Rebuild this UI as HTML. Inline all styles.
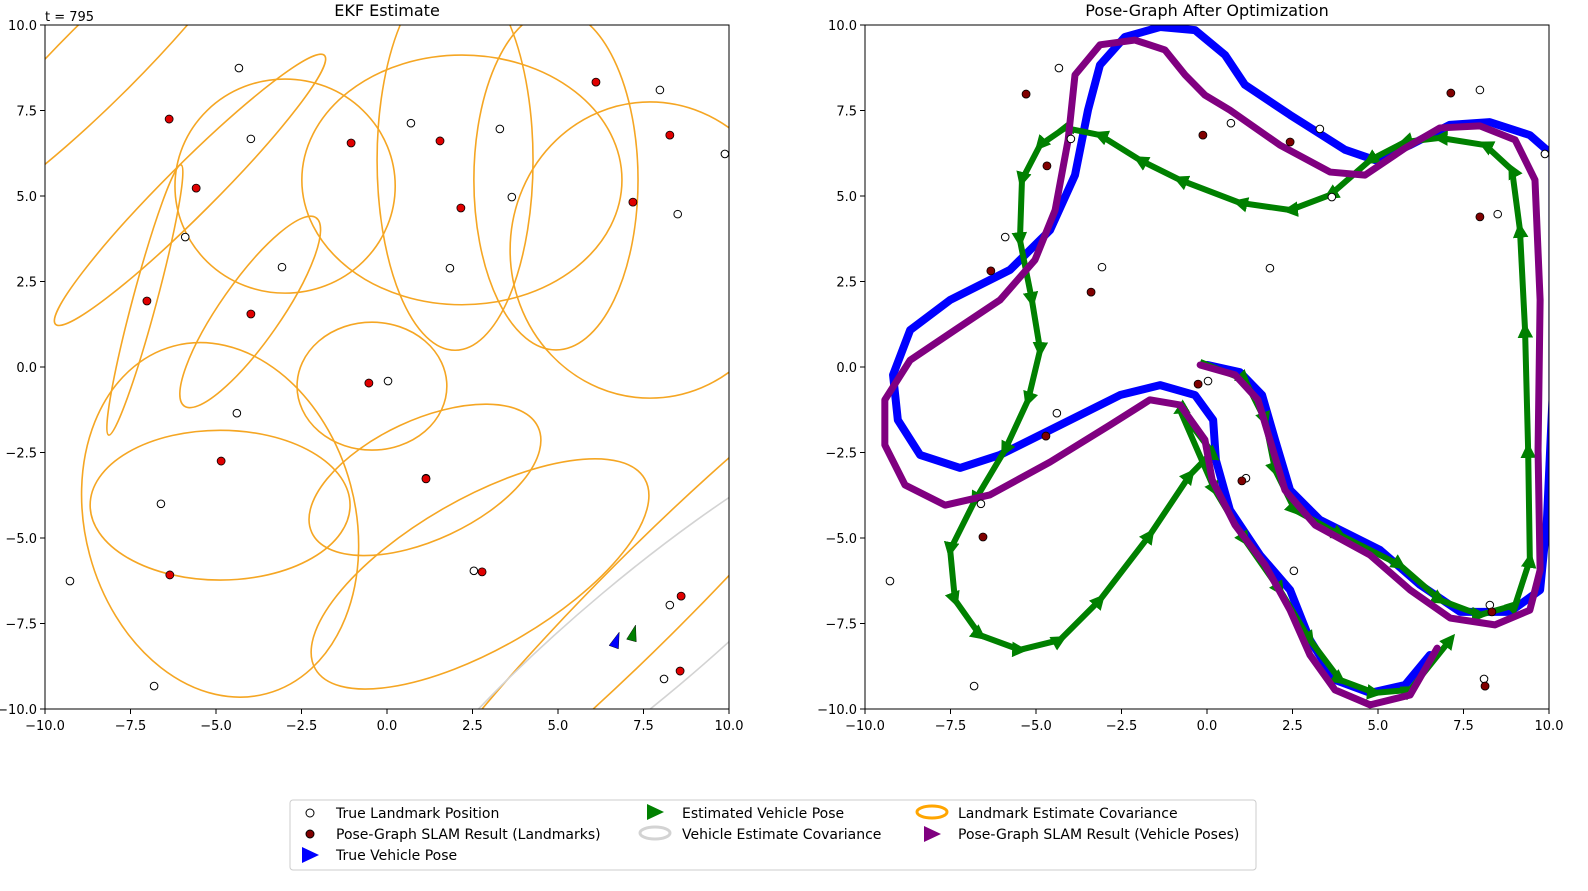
<!DOCTYPE html>
<html><head><meta charset="utf-8"><style>
body{margin:0;background:#fff;font-family:"Liberation Sans","DejaVu Sans",sans-serif;}
svg text{font-family:"DejaVu Sans","Liberation Sans",sans-serif;}
</style></head><body>
<svg id="chart" width="1588" height="886" viewBox="0 0 1588 886" xmlns="http://www.w3.org/2000/svg">
<defs>
<clipPath id="clipL"><rect x="45" y="25" width="684" height="684"/></clipPath>
<clipPath id="clipR"><rect x="865" y="25" width="684" height="684"/></clipPath>
<marker id="gtri" viewBox="0 0 10 10" refX="5" refY="5" markerWidth="2.6" markerHeight="2.6" orient="auto"><path d="M0,0 L10,5 L0,10 z" fill="#008000"/></marker>
</defs>
<g id="left"></g>
<g id="right"></g>
<text x="45" y="21" font-size="13">t = 795</text>
<text x="387" y="16" font-size="16" text-anchor="middle">EKF Estimate</text>
<text x="1207" y="16" font-size="16" text-anchor="middle">Pose-Graph After Optimization</text>
<g>
<rect x="290" y="800" width="966" height="70" rx="3" fill="#fff" stroke="#ccc"/>
<circle cx="310" cy="813" r="4" fill="#fff" stroke="#000"/>
<text x="336" y="818" font-size="14">True Landmark Position</text>
<circle cx="310" cy="834" r="4" fill="#800000" stroke="#000"/>
<text x="336" y="839" font-size="14">Pose-Graph SLAM Result (Landmarks)</text>
<path d="M302,847 L319,855 L302,863 z" fill="#0000ff"/>
<text x="336" y="860" font-size="14">True Vehicle Pose</text>
<path d="M647,804 L664,812 L647,820 z" fill="#008000"/>
<text x="682" y="818" font-size="14">Estimated Vehicle Pose</text>
<ellipse cx="655" cy="833" rx="15" ry="6" fill="none" stroke="#d3d3d3" stroke-width="3"/>
<text x="682" y="839" font-size="14">Vehicle Estimate Covariance</text>
<ellipse cx="932" cy="812" rx="15" ry="6" fill="none" stroke="#ffa500" stroke-width="3"/>
<text x="958" y="818" font-size="14">Landmark Estimate Covariance</text>
<path d="M924,826 L941,834 L924,842 z" fill="#800080"/>
<text x="958" y="839" font-size="14">Pose-Graph SLAM Result (Vehicle Poses)</text>
</g>
</svg>
<script>
const trueLmX=[-4.33,7.98,9.88,-3.98,0.7,3.3,3.65,8.5,-5.9,-3.07,1.84,0.03,-4.39,1.14,-6.61,-9.27,2.54,8.27,8.1,-6.81];
const trueLmY=[8.74,8.1,6.23,6.67,7.13,6.96,4.97,4.47,3.8,2.92,2.89,-0.41,-1.35,-3.25,-4.0,-6.26,-5.96,-6.96,-9.12,-9.33];
const ekfLmX=[-6.37,6.11,-1.05,1.55,8.27,-5.58,2.16,7.19,-7.02,-3.98,-0.53,-4.85,1.14,-6.35,2.78,8.6,8.57];
const ekfLmY=[7.25,8.33,6.55,6.61,6.78,5.23,4.65,4.82,1.93,1.55,-0.47,-2.75,-3.27,-6.08,-5.99,-6.7,-8.89];
const pgLmX=[-5.29,7.13,-0.12,2.43,-4.68,7.98,-6.32,-3.39,-0.26,-4.71,1.02,-6.55,8.33,8.13];
const pgLmY=[7.98,8.01,6.78,6.58,5.88,4.39,2.81,2.19,-0.5,-2.02,-3.33,-4.97,-7.16,-9.33];
const ellCx=[-0.44,-4.88,-4.88,1.11,2.72,7.6,2.19,1.99,4.94,7.69,-8.39,-5.76,-7.08,-4.0,-2.98];
const ellCy=[-0.56,-4.04,-4.47,-3.3,-6.05,-6.7,5.47,6.05,5.47,3.42,8.98,5.18,1.96,1.61,5.29];
const ellRx=[2.19,3.8,3.95,3.65,5.56,10.2,4.68,2.28,2.4,4.09,6.73,5.56,4.09,3.36,3.22];
const ellRy=[1.87,2.19,5.26,1.75,2.19,1.3,3.65,5.56,4.97,4.33,1.17,0.73,0.35,0.88,3.13];
const ellAng=[0,0,15,25,30,45,0,0,0,0,45,45,75,55,0];
const vehCovCx=[7.4], vehCovCy=[-7.98], vehCovRx=[9.36], vehCovRy=[1.75], vehCovAng=[40];
const trueVeh=[6.7,-8.0,70], estVeh=[7.2,-7.8,75];
const blueX=[0,0.96,1.61,1.99,2.43,3.3,5.06,6.23,7.4,8.86,9.74,9.94,10.1,10.1,10.1,9.44,8.27,7.1,5.94,4.91,4.04,2.43,1.11,0.53,-0.35,-1.37,-2.4,-3.13,-3.48,-3.86,-4.59,-5.76,-7.51,-8.68,-9.18,-9.04,-8.39,-7.22,-6.05,-4.3,-2.54,-1.37,-0.35,0.18,0.26,0.67,1.55,2.43,3.01,3.74,4.77,5.79,6.52];
const blueY=[0.06,-0.15,-0.82,-2.13,-3.6,-4.47,-5.35,-6.37,-7.16,-7.16,-6.52,-4.47,-0.96,3.42,6.2,6.78,7.16,7.08,6.49,6.05,6.35,7.37,8.25,9.12,9.85,9.94,9.65,8.83,7.51,5.61,4.0,2.84,1.96,1.08,-0.23,-1.55,-2.57,-2.95,-2.57,-1.7,-0.82,-0.53,-0.82,-1.55,-2.72,-4.18,-5.5,-6.52,-7.98,-9.15,-9.53,-9.3,-8.42];
const purpX=[-0.2,0.82,1.49,1.84,2.28,3.16,4.77,5.94,7.11,8.42,9.44,9.74,9.68,9.74,9.59,9.01,7.98,6.81,5.79,4.62,3.6,2.13,0.67,-0.06,-0.64,-1.23,-2.11,-3.13,-3.86,-4.06,-4.44,-5.03,-6.05,-7.37,-8.68,-9.42,-9.42,-8.83,-7.66,-6.35,-4.59,-2.84,-1.67,-0.79,-0.06,0.15,0.82,1.7,2.43,3.01,3.74,4.77,5.94,6.73];
const purpY=[0.06,-0.23,-0.96,-2.13,-3.6,-4.62,-5.5,-6.52,-7.34,-7.54,-7.11,-5.94,-2.43,1.96,5.47,6.64,7.05,6.99,6.4,5.61,5.7,6.49,7.51,7.95,8.54,9.27,9.56,9.42,8.54,6.64,4.59,3.13,1.96,1.08,0.2,-0.96,-2.28,-3.45,-4.04,-3.74,-2.78,-1.7,-0.96,-1.11,-2.13,-3.3,-4.62,-5.79,-7.11,-8.42,-9.44,-9.88,-9.59,-8.22];
const greenX=[-0.2,1.11,1.7,1.99,2.57,3.89,5.64,6.81,7.98,9.01,9.44,9.39,9.3,9.15,8.92,8.13,6.81,5.79,4.77,3.6,2.43,0.96,-0.79,-1.96,-3.13,-4.15,-4.88,-5.41,-5.47,-5.12,-4.88,-5.23,-5.91,-6.78,-7.51,-7.37,-6.64,-5.47,-4.3,-3.13,-1.67,-0.5,0.15,-0.79,0.23,1.11,2.13,3.01,3.89,4.91,5.94,7.11];
const greenY=[0.15,-0.38,-1.55,-3.01,-4.18,-4.91,-5.79,-6.81,-7.25,-6.96,-5.64,-2.43,1.08,4.01,5.76,6.49,6.7,6.58,6.05,5.03,4.59,4.8,5.47,6.05,6.78,6.99,6.49,5.47,3.71,1.96,0.5,-0.96,-2.43,-3.89,-5.35,-6.81,-7.84,-8.27,-7.98,-6.81,-4.91,-3.16,-2.49,-1.26,-3.6,-5.06,-6.52,-7.98,-9.15,-9.53,-9.44,-7.98];
const ticks=[-10,-7.5,-5,-2.5,0,2.5,5,7.5,10];
const tickLabels=["\u221210.0","\u22127.5","\u22125.0","\u22122.5","0.0","2.5","5.0","7.5","10.0"];

const NS="http://www.w3.org/2000/svg";
const K=34.2;
function sxL(x){return 387+x*K;}
function sxR(x){return 1207+x*K;}
function sy(y){return 367-y*K;}
function mk(tag,attrs,parent){const e=document.createElementNS(NS,tag);for(const k in attrs)e.setAttribute(k,attrs[k]);parent.appendChild(e);return e;}
const L=document.getElementById('left'), R=document.getElementById('right');

function axes(parent,sx,x0,name){
  const g=mk('g',{},parent);
  
  
  mk('rect',{x:x0,y:25,width:684,height:684,fill:'none',stroke:'#000','stroke-width':1},g);
  ticks.forEach((t,i)=>{
    const X=sx(t),Y=sy(t);
    mk('line',{x1:X,y1:709,x2:X,y2:714,stroke:'#000'},g);
    const tx=mk('text',{x:X,y:730,'font-size':13,'text-anchor':'middle'},g);
    tx.textContent=tickLabels[i];
    
    
    mk('line',{x1:x0-5,y1:Y,x2:x0,y2:Y,stroke:'#000'},g);
    const ty=mk('text',{x:x0-8,y:Y+5,'font-size':13,'text-anchor':'end'},g);
    ty.textContent=tickLabels[i];
    
    
  });
}

const gl=mk('g',{'clip-path':'url(#clipL)'},L);
for(let i=0;i<ellCx.length;i++){
  const e=mk('ellipse',{cx:sxL(ellCx[i]),cy:sy(ellCy[i]),rx:ellRx[i]*K,ry:ellRy[i]*K,fill:'none',stroke:'#f5a623','stroke-width':1.6,transform:`rotate(${-ellAng[i]} ${sxL(ellCx[i])} ${sy(ellCy[i])})`},gl);
  
  
}
{
  const e=mk('ellipse',{cx:sxL(vehCovCx[0]),cy:sy(vehCovCy[0]),rx:vehCovRx[0]*K,ry:vehCovRy[0]*K,fill:'none',stroke:'#d3d3d3','stroke-width':1.6,transform:`rotate(${-vehCovAng[0]} ${sxL(vehCovCx[0])} ${sy(vehCovCy[0])})`},gl);
  
  
}
for(let i=0;i<trueLmX.length;i++){
  const c=mk('circle',{cx:sxL(trueLmX[i]),cy:sy(trueLmY[i]),r:3.8,fill:'#fff',stroke:'#000','stroke-width':1},gl);
  
  
}
for(let i=0;i<ekfLmX.length;i++){
  const c=mk('circle',{cx:sxL(ekfLmX[i]),cy:sy(ekfLmY[i]),r:4,fill:'#e00000',stroke:'#000','stroke-width':0.8},gl);
  
  
}
function arrow(parent,x,y,ang,color,name){
  const p=mk('path',{d:'M-7,-5 L9,0 L-7,5 z',fill:color,stroke:'#000','stroke-width':0.4,transform:`translate(${x} ${y}) rotate(${-ang})`},parent);
  
  
}
arrow(gl,sxL(trueVeh[0]),sy(trueVeh[1]),trueVeh[2],'#0000ff','true-vehicle-pose');
arrow(gl,sxL(estVeh[0]),sy(estVeh[1]),estVeh[2],'#008000','estimated-vehicle-pose');
axes(L,sxL,45,'left');

const gr=mk('g',{'clip-path':'url(#clipR)'},R);
function pts(xs,ys){return xs.map((x,i)=>sxR(x)+','+sy(ys[i])).join(' ');}
const bl=mk('polyline',{points:pts(blueX,blueY),fill:'none',stroke:'#0000ff','stroke-width':8,'stroke-linejoin':'round','stroke-linecap':'round'},gr);


const gn=mk('polyline',{points:pts(greenX,greenY),fill:'none',stroke:'#008000','stroke-width':6,'stroke-linejoin':'round','marker-mid':'url(#gtri)','marker-end':'url(#gtri)'},gr);


const pu=mk('polyline',{points:pts(purpX,purpY),fill:'none',stroke:'#800080','stroke-width':7,'stroke-linejoin':'round','stroke-linecap':'round'},gr);


for(let i=0;i<trueLmX.length;i++){
  const c=mk('circle',{cx:sxR(trueLmX[i]),cy:sy(trueLmY[i]),r:3.8,fill:'#fff',stroke:'#000','stroke-width':1},gr);
  
  
}
for(let i=0;i<pgLmX.length;i++){
  const c=mk('circle',{cx:sxR(pgLmX[i]),cy:sy(pgLmY[i]),r:4,fill:'#800000',stroke:'#000','stroke-width':0.8},gr);
  
  
}
axes(R,sxR,865,'right');
</script>
</body></html>
